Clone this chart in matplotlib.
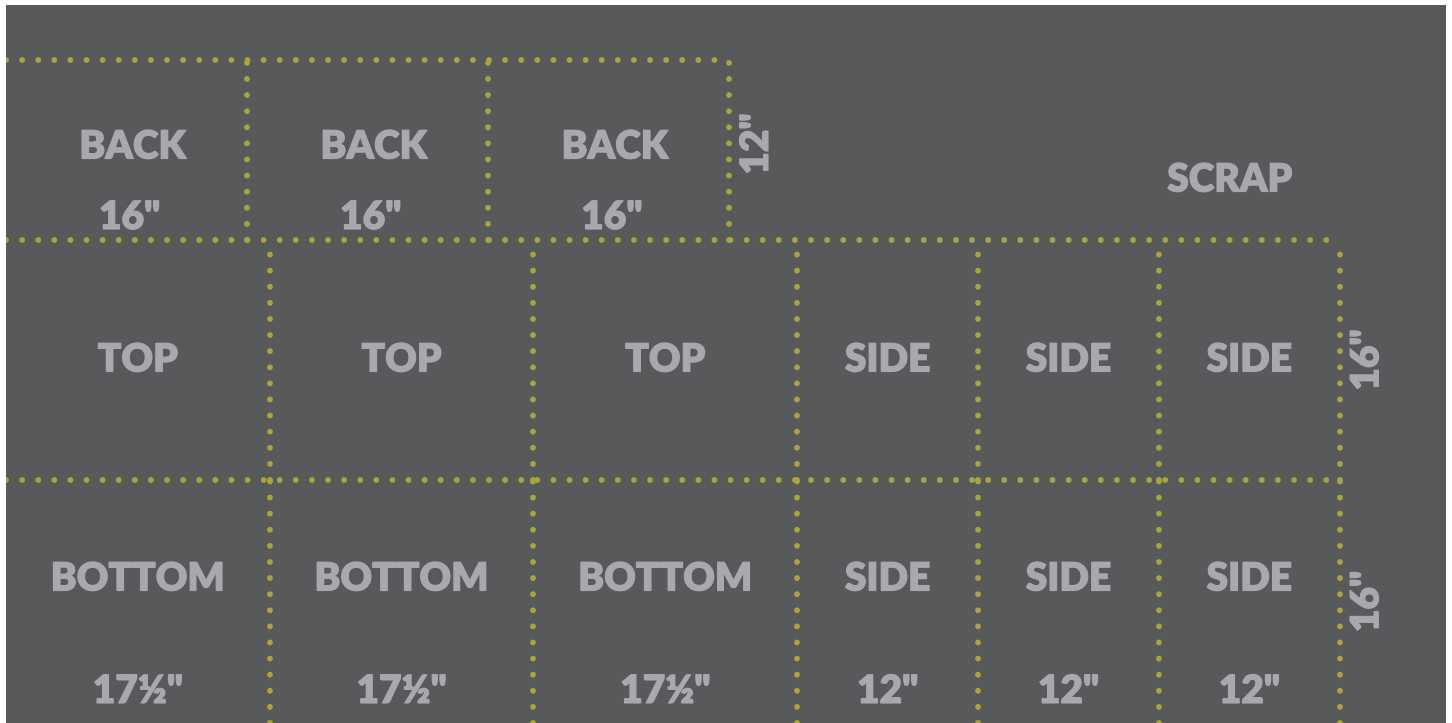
import matplotlib
matplotlib.use("Agg")
import matplotlib.pyplot as plt
import matplotlib.patheffects as pe

# 시트 크기 (inch)
sheet_w = 95.55
sheet_h = 47.67

# 줄별 조각 (이름, 폭)
row1_names = ["BACK", "BACK", "BACK"]
row1_widths = [16, 16, 16]
row1_size = '16"'
row2_names = ["TOP", "TOP", "TOP", "SIDE", "SIDE", "SIDE"]
row2_widths = [17.5, 17.5, 17.5, 12, 12, 12]
row3_names = ["BOTTOM", "BOTTOM", "BOTTOM", "SIDE", "SIDE", "SIDE"]
row3_widths = [17.5, 17.5, 17.5, 12, 12, 12]
row3_sizes = ['17½"', '17½"', '17½"', '12"', '12"', '12"']

# 줄 높이 (아래에서 위로)
row_heights = [16, 16, 12]
height_labels = ['16"', '16"', '12"']

bg = "#58595b"
dot_c = "#aaa53c"
txt_c = "#a7a9ac"

fig = plt.figure(figsize=(14.52, 7.23), dpi=100, facecolor="white")
ax = fig.add_axes([6 / 1452, 0, 1440 / 1452, 718 / 723])
ax.set_facecolor(bg)
ax.set_xlim(0, sheet_w)
ax.set_ylim(-0.2, sheet_h)
ax.axis("off")
ax.add_patch(plt.Rectangle((0, -0.2), sheet_w, sheet_h + 0.2, color=bg, zorder=0))

lw = 4.2
dots = dict(color=dot_c, lw=lw, linestyle=(0, (0.01, 2.75)), dash_capstyle="round", zorder=2)
font = dict(color=txt_c, fontsize=28, fontweight="heavy", family=["Lato", "DejaVu Sans"],
            ha="center", va="center", zorder=3,
            path_effects=[pe.withStroke(linewidth=0.8, foreground=txt_c)])

y0 = 0
y1 = y0 + row_heights[0]
y2 = y1 + row_heights[1]
y3 = y2 + row_heights[2]

# 가로 절단선
ax.plot([0, sum(row1_widths)], [y3, y3], **dots)
ax.plot([0, sum(row2_widths)], [y2, y2], **dots)
ax.plot([0, sum(row3_widths)], [y1, y1], **dots)

# 1번째 줄 (BACK)
x = 0
for name, w in zip(row1_names, row1_widths):
    ax.plot([x + w, x + w], [y2, y3], **dots)
    ax.text(x + w / 2 + 0.4, y2 + 6.2, name, **font)
    ax.text(x + w / 2 + 0.2, y2 + 1.5, row1_size, **font)
    x += w
ax.text(x + 1.8, y2 + 6.4, height_labels[2], rotation=90, **font)
ax.text(81.2, 36.0, "SCRAP", **font)

# 2번째 줄 (TOP / SIDE)
x = 0
for name, w in zip(row2_names, row2_widths):
    ax.plot([x + w, x + w], [y1, y2], **dots)
    ax.text(x + w / 2, y1 + 8, name, **font)
    x += w
ax.text(x + 1.8, y1 + 8, height_labels[1], rotation=90, **font)

# 3번째 줄 (BOTTOM / SIDE)
x = 0
for name, w, s in zip(row3_names, row3_widths, row3_sizes):
    ax.plot([x + w, x + w], [-0.2, y1], **dots)
    ax.text(x + w / 2, y0 + 9.4, name, **font)
    ax.text(x + w / 2, y0 + 1.9, s, **font)
    x += w
ax.text(x + 1.8, y0 + 7.9, height_labels[0], rotation=90, **font)

fig.savefig("out.png", dpi=100, facecolor="white")
